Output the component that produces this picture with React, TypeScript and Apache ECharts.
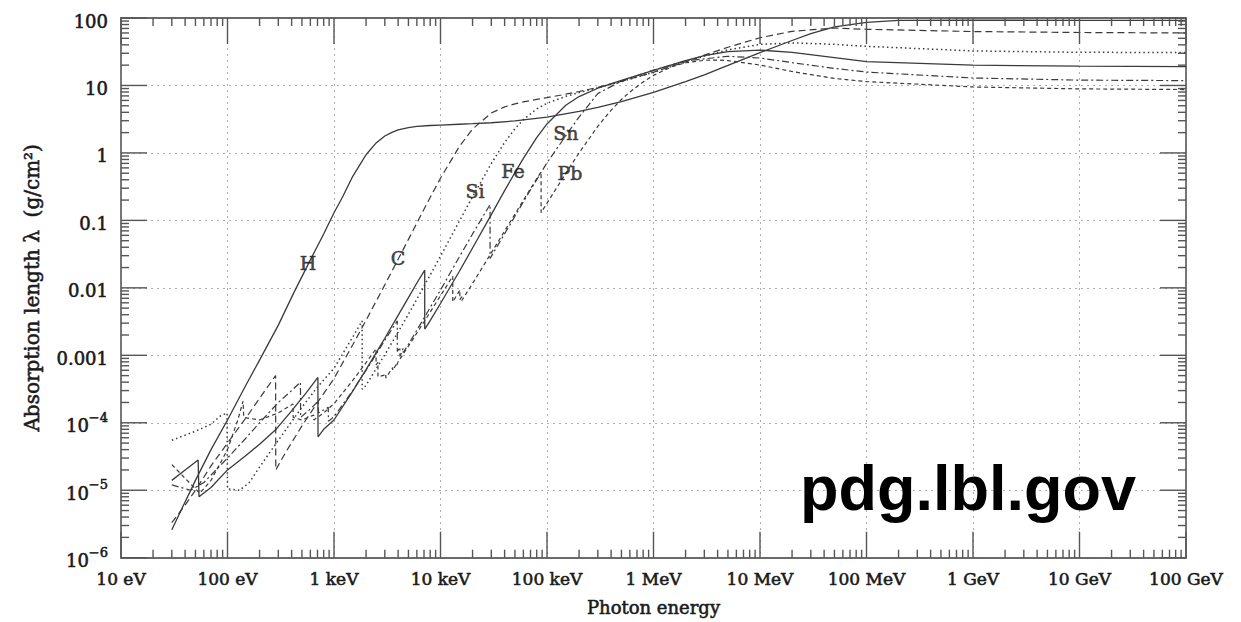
import React, { useEffect, useRef } from "react";
import * as echarts from "echarts";

// ---------- data: [photon energy (eV), absorption length (g/cm^2)] ----------
const hydrogen: [number, number][] = [
  [30, 2.6e-6], [50, 1.4e-5], [70, 4.0e-5], [100, 1.1e-4], [150, 3.7e-4], [200, 8.5e-4],
  [300, 2.8e-3], [420, 8.5e-3], [600, 0.026], [800, 0.063], [1000, 0.13], [1200, 0.22],
  [1500, 0.45], [1800, 0.72], [2000, 0.94], [2500, 1.42], [3000, 1.78], [3500, 2.02],
  [4000, 2.2], [5000, 2.38], [6000, 2.47], [8000, 2.55], [1e4, 2.59], [1.5e4, 2.66],
  [2e4, 2.71], [3e4, 2.8], [5e4, 2.98], [1e5, 3.4], [2e5, 4.12], [3e5, 4.73], [5e5, 5.78],
  [1e6, 7.92], [2e6, 11.4], [3e6, 14.4], [5e6, 19.8], [1e7, 30.7], [2e7, 46.4], [3e7, 58.5],
  [5e7, 74], [1e8, 86], [2e8, 92], [1e9, 93], [1e10, 92], [1e11, 92],
];
const carbon: [number, number][] = [
  [30, 3.3e-6], [40, 6e-6], [50, 1.0e-5], [70, 2.3e-5], [100, 5e-5], [150, 1.2e-4],
  [200, 2.3e-4], [283, 5e-4], [284, 2e-5], [350, 3.6e-5], [500, 9e-5], [700, 2e-4],
  [1000, 4.52e-4], [1500, 1.43e-3], [2000, 3.3e-3], [3000, 0.0111], [4000, 0.0265],
  [5000, 0.0523], [6000, 0.0913], [8000, 0.219], [1e4, 0.421], [1.5e4, 1.24], [2e4, 2.26],
  [3e4, 3.9], [4e4, 4.82], [5e4, 5.34], [6e4, 5.7], [8e4, 6.21], [1e5, 6.6], [1.5e5, 7.42],
  [2e5, 8.14], [3e5, 9.38], [5e5, 11.5], [1e6, 15.7], [2e6, 22.5], [3e6, 28.1], [5e6, 36.9],
  [1e7, 51], [2e7, 63.5], [5e7, 71], [1e8, 68], [1e9, 63], [1e10, 61], [1e11, 60],
];
const silicon: [number, number][] = [
  [30, 5.5e-5], [50, 7.5e-5], [70, 9.5e-5], [85, 1.25e-4], [99, 1.4e-4], [100, 1.05e-5],
  [130, 1.0e-5], [160, 1.3e-5], [200, 2.2e-5], [300, 5.5e-5], [500, 1.7e-4], [700, 3.4e-4],
  [1000, 6.4e-4], [1500, 1.87e-3], [1838, 3.23e-3], [1840, 3.13e-4], [2000, 3.6e-4],
  [3000, 1.02e-3], [4000, 2.21e-3], [5000, 4.08e-3], [6000, 6.8e-3], [8000, 0.0155],
  [1e4, 0.0295], [1.5e4, 0.0967], [2e4, 0.224], [3e4, 0.696], [4e4, 1.43], [5e4, 2.28],
  [6e4, 3.12], [8e4, 4.49], [1e5, 5.45], [1.5e5, 6.9], [2e5, 7.84], [3e5, 9.24], [5e5, 11.4],
  [1e6, 15.7], [2e6, 22.3], [3e6, 27.2], [5e6, 33.7], [1e7, 40.6], [2e7, 42.8], [5e7, 40.7],
  [1e8, 38], [1e9, 32.5], [1e10, 31], [1e11, 30.8],
];
const iron: [number, number][] = [
  [30, 1.4e-5], [40, 2e-5], [53, 2.8e-5], [54, 8e-6], [70, 1.1e-5], [100, 2e-5], [150, 3.3e-5],
  [200, 4.8e-5], [288, 8.1e-5], [400, 1.5e-4], [550, 2.8e-4], [706, 4.7e-4], [708, 6.2e-5],
  [800, 8e-5], [1000, 1.1e-4], [1500, 2.94e-4], [2000, 6.15e-4], [3000, 1.79e-3],
  [4000, 3.9e-3], [5000, 7.15e-3], [6000, 0.0118], [7111, 0.0183], [7112, 2.45e-3],
  [8000, 3.27e-3], [1e4, 5.86e-3], [1.5e4, 0.0175], [2e4, 0.0389], [3e4, 0.122], [4e4, 0.276],
  [5e4, 0.511], [6e4, 0.83], [8e4, 1.68], [1e5, 2.69], [1.5e5, 5.09], [2e5, 6.85], [3e5, 9.1],
  [5e5, 11.9], [1e6, 16.7], [2e6, 23.4], [3e6, 27.6], [5e6, 31.8], [1e7, 33.4], [2e7, 31],
  [5e7, 25.8], [1e8, 22.5], [1e9, 20], [1e10, 19.3], [1e11, 19],
];
const tin: [number, number][] = [
  [30, 1.2e-5], [45, 1.0e-5], [60, 1.3e-5], [100, 3e-5], [150, 6e-5], [200, 1e-4], [300, 2e-4],
  [400, 3e-4], [484, 4e-4], [486, 1.2e-4], [600, 1.6e-4], [713, 2.1e-4], [715, 1.4e-4],
  [884, 1.7e-4], [886, 1.05e-4], [1000, 1.23e-4], [1500, 3.0e-4], [2000, 6.0e-4],
  [3000, 1.67e-3], [3928, 3.24e-3], [3930, 1.14e-3], [4155, 1.32e-3], [4157, 9.6e-4],
  [4464, 1.27e-3], [4466, 1.1e-3], [5000, 1.46e-3], [6000, 2.36e-3], [8000, 5.1e-3],
  [1e4, 9.3e-3], [1.5e4, 0.0286], [2e4, 0.063], [29199, 0.172], [29200, 0.0273], [3e4, 0.0293],
  [4e4, 0.0633], [5e4, 0.115], [6e4, 0.189], [8e4, 0.4], [1e5, 0.714], [1.5e5, 1.8], [2e5, 3.4],
  [3e5, 7.6], [5e5, 11.6], [1e6, 16.9], [2e6, 23.1], [5e6, 27.1], [1e7, 25.5], [2e7, 21.8],
  [5e7, 17.9], [1e8, 15.8], [1e9, 12.9], [1e10, 12], [1e11, 11.8],
];
const lead: [number, number][] = [
  [30, 2.4e-5], [40, 1.5e-5], [55, 9e-6], [70, 1.4e-5], [100, 4e-5], [125, 1.1e-4], [140, 2.1e-4],
  [142, 1.2e-4], [200, 1.1e-4], [300, 1.4e-4], [412, 1.9e-4], [414, 1.2e-4], [500, 1.1e-4],
  [644, 1.3e-4], [646, 1.1e-4], [800, 1.4e-4], [1000, 1.92e-4], [1500, 4.24e-4], [2000, 7.8e-4],
  [2483, 1.25e-3], [2485, 7.2e-4], [2585, 7.9e-4], [2587, 4.8e-4], [3000, 5.1e-4],
  [3065, 5.3e-4], [3067, 4.6e-4], [3553, 6.6e-4], [3555, 6.0e-4], [3850, 7.3e-4],
  [3852, 6.9e-4], [4000, 8.0e-4], [5000, 1.37e-3], [6000, 2.14e-3], [8000, 4.37e-3],
  [1e4, 7.66e-3], [13034, 0.0149], [13036, 6.2e-3], [15000, 8.96e-3], [15199, 9.3e-3],
  [15201, 6.7e-3], [15860, 7.4e-3], [15862, 6.5e-3], [2e4, 0.0116], [3e4, 0.033], [4e4, 0.0696],
  [5e4, 0.124], [6e4, 0.199], [8e4, 0.413], [88003, 0.524], [88005, 0.13], [1e5, 0.18],
  [1.5e5, 0.497], [2e5, 1.0], [3e5, 2.48], [4e5, 4.3], [5e5, 6.2], [6e5, 8.0], [8e5, 11.3],
  [1e6, 14.1], [1.5e6, 19.1], [2e6, 21.7], [3e6, 23.6], [4e6, 23.8], [5e6, 23.4], [1e7, 20.1],
  [2e7, 16.1], [5e7, 12.7], [1e8, 11.4], [1e9, 9.5], [1e10, 8.9], [1e11, 8.7],
];

const elementNames = ["H", "C", "Si", "Fe", "Sn", "Pb"];
const elementData = [hydrogen, carbon, silicon, iron, tin, lead];

// curve labels: [text, energy (eV), absorption length]
const curveLabels: [string, number, number][] = [
  ["H", 570, 0.023], ["C", 3990, 0.0273], ["Si", 21100, 0.274],
  ["Fe", 48000, 0.54], ["Sn", 150600, 1.96], ["Pb", 164000, 0.505],
];

const xTickLabels = ["10 eV", "100 eV", "1 keV", "10 keV", "100 keV", "1 MeV", "10 MeV", "100 MeV", "1 GeV", "10 GeV", "100 GeV"];
const yTickLabels = ["10^-6", "10^-5", "10^-4", "0.001", "0.01", "0.1", "1", "10", "100"];
const xDecadeMin = 1, xDecadeMax = 11; // log10(eV)
const yDecadeMin = -6, yDecadeMax = 2; // log10(g/cm^2)

const watermark = "pdg.lbl.gov";
const xTitle = "Photon energy";
const yTitle = "Absorption length λ  (g/cm²)";

// ---------- styles ----------
const lineDash: any[] = ["solid", [7, 4], [1.5, 3], "solid", [7, 3, 2, 3], [4, 3]];
const lineWidths = [1.3, 1.2, 1.5, 1.3, 1.2, 1.2];
const CURVE = "#3a3a3a";
const FRAME = "#6a6a6a";
const TICK = "#555555";
const TEXT = "#1a1a1a";
const SERIF = "'DejaVu Serif', 'Liberation Serif', serif";
const thick = { textBorderColor: "#2a2a2a", textBorderWidth: 0.6 };
const MAJOR_LEN = 26;
const MINOR_LEN = 8;

const toLog = (d: [number, number][]) => d.map(([e, v]) => [Math.log10(e), Math.log10(v)]);

// tick positions (log10 units) with their length
function tickPositions(from: number, to: number): [number, number][] {
  const out: [number, number][] = [];
  for (let n = from; n <= to; n++) {
    out.push([n, MAJOR_LEN]);
    if (n < to) for (let k = 2; k <= 9; k++) out.push([n + Math.log10(k), MINOR_LEN]);
  }
  return out;
}

export default function App() {
  const ref = useRef<HTMLDivElement>(null);
  useEffect(() => {
    if (!ref.current) return;
    const chart = echarts.init(ref.current, undefined, { renderer: "svg" });

    const axisLine = { show: true, onZero: false, lineStyle: { color: FRAME, width: 1.8 } };
    const noTick = { show: false };
    const grid = { show: true, lineStyle: { color: "#b0b0b0", width: 1, type: [2, 4] as any } };

    const yFormatter = (v: number) => {
      const s = yTickLabels[Math.round(v - yDecadeMin)];
      if (!s) return "";
      if (s.startsWith("10^")) return "{b|10}{s|" + s.slice(3).replace("-", "−") + "}";
      return "{b|" + s + "}";
    };

    const tickStyle = { stroke: TICK, lineWidth: 1.4 };
    const xTicks = tickPositions(xDecadeMin, xDecadeMax).map(([p, l]) => [p, yDecadeMin, l]);
    const yTicks = tickPositions(yDecadeMin, yDecadeMax).map(([p, l]) => [xDecadeMin, p, l]);

    const series: any[] = elementNames.map((name, i) => ({
      type: "line",
      name,
      data: toLog(elementData[i]),
      showSymbol: false,
      symbol: "none",
      smooth: false,
      clip: true,
      lineStyle: { color: CURVE, width: lineWidths[i], type: lineDash[i] },
      z: 3,
    }));

    series.push({
      type: "custom",
      name: "xTicks",
      silent: true,
      data: xTicks,
      encode: { x: 0, y: 1 },
      z: 5,
      renderItem: (params: any, api: any) => {
        const cs = params.coordSys;
        const px = api.coord([api.value(0), api.value(1)])[0];
        const len = api.value(2);
        const top = cs.y, bottom = cs.y + cs.height;
        return {
          type: "group",
          children: [
            { type: "line", shape: { x1: px, y1: bottom, x2: px, y2: bottom - len }, style: tickStyle },
            { type: "line", shape: { x1: px, y1: top, x2: px, y2: top + len }, style: tickStyle },
          ],
        };
      },
    });
    series.push({
      type: "custom",
      name: "yTicks",
      silent: true,
      data: yTicks,
      encode: { x: 0, y: 1 },
      z: 5,
      renderItem: (params: any, api: any) => {
        const cs = params.coordSys;
        const py = api.coord([api.value(0), api.value(1)])[1];
        const len = api.value(2);
        const left = cs.x, right = cs.x + cs.width;
        return {
          type: "group",
          children: [
            { type: "line", shape: { x1: left, y1: py, x2: left + len, y2: py }, style: tickStyle },
            { type: "line", shape: { x1: right, y1: py, x2: right - len, y2: py }, style: tickStyle },
          ],
        };
      },
    });
    series.push({
      type: "scatter",
      name: "labels",
      silent: true,
      symbolSize: 0.01,
      itemStyle: { color: "transparent" },
      data: curveLabels.map(([t, e, v]) => ({ name: t, value: [Math.log10(e), Math.log10(v)] })),
      label: {
        show: true,
        position: "inside",
        formatter: "{b}",
        fontFamily: SERIF,
        fontSize: 19,
        color: TEXT,
        ...thick,
      },
      z: 6,
    });

    chart.setOption({
      animation: false,
      backgroundColor: "#ffffff",
      grid: { left: 121, right: 55, top: 18, bottom: 61, containLabel: false },
      xAxis: [
        {
          type: "value",
          min: xDecadeMin,
          max: xDecadeMax,
          interval: 1,
          position: "bottom",
          axisLine,
          axisTick: noTick,
          splitLine: grid,
          axisLabel: {
            formatter: (v: number) => xTickLabels[Math.round(v - xDecadeMin)] || "",
            fontFamily: SERIF,
            fontSize: 17,
            color: TEXT,
            margin: 13,
            showMinLabel: true,
            showMaxLabel: true,
            ...thick,
          },
          name: xTitle,
          nameLocation: "middle",
          nameGap: 41,
          nameTextStyle: { fontFamily: SERIF, fontSize: 18, color: TEXT, ...thick },
        },
        {
          type: "value",
          min: xDecadeMin,
          max: xDecadeMax,
          interval: 1,
          position: "top",
          axisLine,
          axisTick: noTick,
          axisLabel: { show: false },
          splitLine: { show: false },
        },
      ],
      yAxis: [
        {
          type: "value",
          min: yDecadeMin,
          max: yDecadeMax,
          interval: 1,
          position: "left",
          axisLine,
          axisTick: noTick,
          splitLine: grid,
          axisLabel: {
            formatter: yFormatter,
            margin: 13,
            showMinLabel: true,
            showMaxLabel: true,
            rich: {
              b: { fontFamily: SERIF, fontSize: 18, color: TEXT, lineHeight: 24, verticalAlign: "bottom", ...thick },
              s: { fontFamily: SERIF, fontSize: 13, color: TEXT, lineHeight: 8, verticalAlign: "top", ...thick },
            },
          },
          name: yTitle,
          nameLocation: "middle",
          nameGap: 79,
          nameRotate: 90,
          nameTextStyle: { fontFamily: SERIF, fontSize: 20, color: TEXT, ...thick },
        },
        {
          type: "value",
          min: yDecadeMin,
          max: yDecadeMax,
          interval: 1,
          position: "right",
          axisLine,
          axisTick: noTick,
          axisLabel: { show: false },
          splitLine: { show: false },
        },
      ],
      graphic: [
        {
          type: "text",
          x: 800,
          y: 488,
          z: 10,
          style: {
            text: watermark,
            font: "bold 63px 'Liberation Sans', Arial, sans-serif",
            fill: "#000000",
            align: "left",
            verticalAlign: "middle",
          },
        },
      ],
      series,
    });

    return () => chart.dispose();
  }, []);

  return (
    <div
      ref={ref}
      style={{ position: "absolute", left: 0, top: 0, width: 1241, height: 622, background: "#fff" }}
    />
  );
}
